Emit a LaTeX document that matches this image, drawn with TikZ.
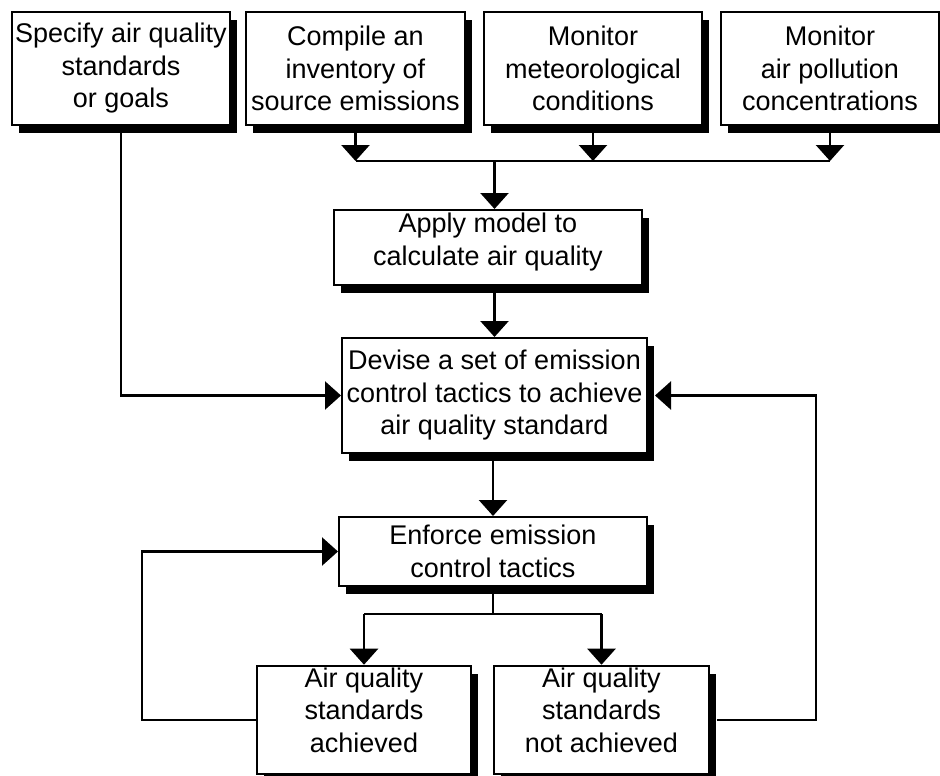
\documentclass[tikz,border=0pt]{standalone}
\usepackage{fontspec}
\setmainfont{Liberation Sans}
\usetikzlibrary{arrows.meta,shadows}

\begin{document}
\begin{tikzpicture}[x=1pt,y=-1pt,
  font=\fontsize{27}{32.5}\selectfont,
  stepbox/.style={draw, line width=2pt, fill=white, inner sep=2pt, align=center,
    drop shadow={shadow xshift=7pt, shadow yshift=-8pt, fill=black, opacity=1}},
  flow/.style={line width=2.4pt},
  arr/.style={flow, -{Triangle[length=16pt,width=28pt]}}]
\useasboundingbox (0,0) rectangle (940,776);
\clip (0,0) rectangle (940,776);

% Four input boxes along the top
\node[stepbox, minimum width=218, minimum height=113] (spec) at (121,68.5)
  {Specify air quality\\standards\\or goals};
\node[stepbox, minimum width=219, minimum height=113] (inv) at (355.5,68.5)
  {Compile an\\inventory of\\source emissions};
\node[stepbox, minimum width=218, minimum height=113] (met) at (593,68.5)
  {Monitor\\meteorological\\conditions};
\node[stepbox, minimum width=218, minimum height=113] (conc) at (830,68.5)
  {Monitor\\air pollution\\concentrations};

% Middle column
\node[stepbox, minimum width=308, minimum height=75, text depth=17pt] (model) at (488,247.5)
  {Apply model to\\calculate air quality};
\node[stepbox, minimum width=305, minimum height=115] (devise) at (494.5,395.5)
  {Devise a set of emission\\control tactics to achieve\\air quality standard};
\node[stepbox, minimum width=308, minimum height=69] (enforce) at (493,551.5)
  {Enforce emission\\control tactics};

% Two outcomes
\node[stepbox, minimum width=214, minimum height=108, text depth=20pt] (ok) at (364,720)
  {Air quality\\standards\\achieved};
\node[stepbox, minimum width=215, minimum height=108, text depth=20pt] (notok) at (601.5,720)
  {Air quality\\standards\\not achieved};

\coordinate (bus) at (0,161);
\coordinate (split) at (0,614);
\coordinate (loopL) at (142,0);
\coordinate (loopR) at (816,0);

% Inputs collected on one line
\draw[arr] (inv.south) -- (inv.south |- bus);
\draw[arr] (met.south) -- (met.south |- bus);
\draw[arr] (conc.south) -- (conc.south |- bus);
\draw[flow] (inv.south |- bus) -- (conc.south |- bus);
\draw[arr] (devise.north |- bus) -- (devise.north |- model.north);
\draw[arr] (devise.north |- model.south) -- (devise.north);
\draw[arr] (spec.south) |- (devise.west);
\draw[arr] (enforce.north |- devise.south) -- (enforce.north);

% Split to the outcomes
\draw[flow] (enforce.south) -- (enforce.south |- split);
\draw[flow] (ok.north |- split) -- (notok.north |- split);
\draw[arr] (ok.north |- split) -- (ok.north);
\draw[arr] (notok.north |- split) -- (notok.north);

% Feedback loops
\draw[arr] (ok.west) -| (loopL |- enforce.west) -- (enforce.west);
\draw[arr] ([xshift=7pt]notok.east) -| (loopR |- devise.east) -- ([xshift=7pt]devise.east);
\end{tikzpicture}
\end{document}
